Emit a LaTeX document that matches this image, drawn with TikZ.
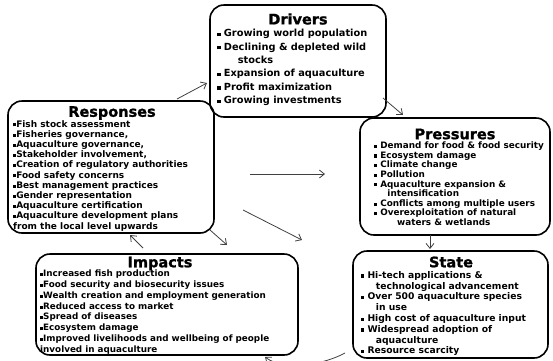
\documentclass[tikz,border=0pt]{standalone}
\usepackage{fontspec}
\setmainfont{DejaVu Sans}
\newfontfamily\heavy{DejaVu Sans}[BoldFeatures={FakeBold=1.2}]
\usetikzlibrary{positioning, arrows.meta}

\newcommand{\bul}{\rule[0.12ex]{0.34em}{0.34em}}

\begin{document}
\begin{tikzpicture}[x=1pt, y=-1pt,
    dpsir/.style={draw, line width=1.6pt, rounded corners=14pt, inner sep=0pt},
    ttl/.style={inner sep=0pt, font=\heavy\bfseries\fontsize{14.5}{15}\selectfont},
    lst/.style={inner sep=0pt, align=left, anchor=north west},
    flow/.style={-{Straight Barb[length=5pt,width=8pt]}, line width=0.8pt, black!75}]
    \useasboundingbox (0,0) rectangle (553,360);
    \clip (0,0) rectangle (553,360);

    % Drivers
    \node[dpsir, minimum width=176pt, minimum height=112pt] (drv) at (298,61) {};
    \node[ttl] (drvT) at (298,19) {Drivers};
    \node[lst, font=\bfseries\fontsize{9.8}{13.4}\selectfont] (drvL) at (217,29) {%
      \bul\ Growing world population\\
      \bul\ Declining \& depleted wild\\
      \hspace{2.1em}stocks\\
      \bul\ Expansion of aquaculture\\
      \bul\ Profit maximization\\
      \bul\ Growing investments};

    % Responses
    \node[dpsir, minimum width=206pt, minimum height=132pt] (rsp) at (111,167) {};
    \node[ttl] (rspT) at (112,113) {Responses};
    \node[lst, font=\bfseries\fontsize{9}{10.2}\selectfont] (rspL) at (13,120) {%
      \bul Fish stock assessment\\
      \bul Fisheries governance,\\
      \bul Aquaculture governance,\\
      \bul Stakeholder involvement,\\
      \bul Creation of regulatory authorities\\
      \bul Food safety concerns\\
      \bul Best management practices\\
      \bul Gender representation\\
      \bul Aquaculture certification\\
      \bul Aquaculture development plans\\
      from the local level upwards};

    % Pressures
    \node[dpsir, minimum width=190pt, minimum height=117pt] (pre) at (455,176.5) {};
    \node[ttl] (preT) at (455,134) {Pressures};
    \node[lst, font=\bfseries\fontsize{8.85}{9.65}\selectfont] (preL) at (374,141.5) {%
      \bul\ Demand for food \& food security\\
      \bul\ Ecosystem damage\\
      \bul\ Climate change\\
      \bul\ Pollution\\
      \bul\ Aquaculture expansion \&\\
      \hspace{1.5em}intensification\\
      \bul\ Conflicts among multiple users\\
      \bul\ Overexploitation of natural\\
      \hspace{2.6em}waters \& wetlands};

    % State
    \node[dpsir, minimum width=195pt, minimum height=107pt] (sta) at (450.5,304.5) {};
    \node[ttl] (staT) at (451,262) {State};
    \node[lst, font=\bfseries\fontsize{9.2}{10.8}\selectfont] (staL) at (361,271) {%
      \bul\ Hi-tech applications \&\\
      \hspace{1.6em}technological advancement\\
      \bul\ Over 500 aquaculture species\\
      \hspace{1.6em}in use\\
      \bul\ High cost of aquaculture input\\
      \bul\ Widespread adoption of\\
      \hspace{1.6em}aquaculture\\
      \bul\ Resource scarcity};

    % Impacts
    \node[dpsir, minimum width=262pt, minimum height=101pt] (imp) at (167,304.5) {};
    \node[ttl] (impT) at (160,263.5) {Impacts};
    \node[lst, font=\bfseries\fontsize{8.8}{10.9}\selectfont] (impL) at (40,269.5) {%
      \bul Increased fish production\\
      \bul Food security and biosecurity issues\\
      \bul Wealth creation and employment generation\\
      \bul Reduced access to market\\
      \bul Spread of diseases\\
      \bul Ecosystem damage\\
      \bul Improved livelihoods and wellbeing of people\\
      involved in aquaculture};

    % Arrow ends
    \coordinate (rd1) at (177,99);   \coordinate (rd2) at (207,83);
    \coordinate (dp1) at (383,98);   \coordinate (dp2) at (403,115);
    \coordinate (mh1) at (250,174);  \coordinate (mh2) at (325,174);
    \coordinate (md1) at (243,210);  \coordinate (md2) at (302,240);
    \coordinate (ri1) at (210,230);  \coordinate (ri2) at (227,245);
    \coordinate (ir1) at (143,248);  \coordinate (ir2) at (130,235);
    \coordinate (ps1) at (430,235);  \coordinate (ps2) at (430,249);
    \coordinate (si1) at (345,353);  \coordinate (si2) at (265,357);

    % Arrows
    \draw[flow] (rd1) -- (rd2);
    \draw[flow] (dp1) -- (dp2);
    \draw[flow] (mh1) -- (mh2);
    \draw[flow] (md1) -- (md2);
    \draw[flow] (ri1) -- (ri2);
    \draw[flow] (ir1) -- (ir2);
    \draw[flow] (ps1) -- (ps2);
    \draw[flow] (si1) .. controls (325,364) and (285,372) .. (si2);
\end{tikzpicture}
\end{document}
